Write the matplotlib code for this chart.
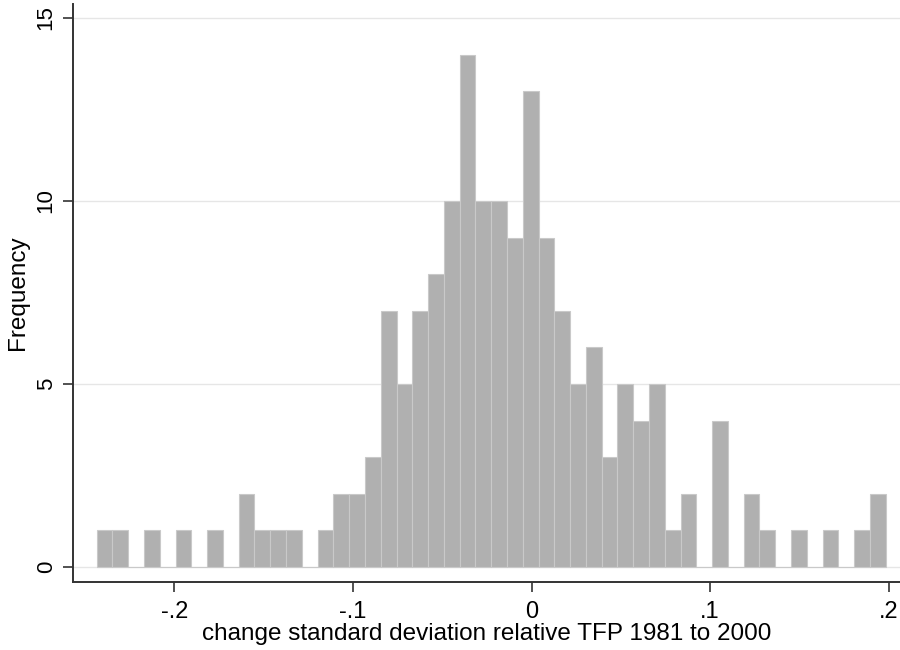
import numpy as np
import matplotlib
matplotlib.use("Agg")
import matplotlib.pyplot as plt

plt.rcParams['font.family'] = ['Liberation Sans', 'DejaVu Sans']

# Histogram data (50 bins)
bin_start = -0.24345
bin_width = 0.008835
counts = [1, 1, 0, 1, 0, 1, 0, 1, 0, 2,
          1, 1, 1, 0, 1, 2, 2, 3, 7, 5,
          7, 8, 10, 14, 10, 10, 9, 13, 9, 7,
          5, 6, 3, 5, 4, 5, 1, 2, 0, 4,
          0, 2, 1, 0, 1, 0, 1, 0, 1, 2]
xticks = [-0.2, -0.1, 0, 0.1, 0.2]
xticklabels = ['-.2', '-.1', '0', '.1', '.2']
yticks = [0, 5, 10, 15]

edges = bin_start + bin_width * np.arange(len(counts) + 1)

fig = plt.figure(figsize=(9, 6.5), dpi=100)
ax = fig.add_axes([73.3 / 900, 1 - 581.7 / 650, 1 - 73.3 / 900, (581.7 - 4) / 650])

ax.bar(edges[:-1], counts, width=bin_width, align='edge',
       color='#b0b0b0', edgecolor='#c9c9c9', linewidth=0.8, zorder=3)

ax.set_xlim((73.3 - 531.5) / 1786, (900 - 531.5) / 1786)
ax.set_ylim((567 - 581.7) / 36.6, (567 - 4) / 36.6)

ax.set_yticks(yticks)
ax.set_yticklabels([str(v) for v in yticks], rotation=90, va='center', fontsize=16)
ax.set_xticks(xticks)
ax.set_xticklabels(xticklabels, fontsize=17)

ax.yaxis.grid(True, color='#e6e6e6', linewidth=1.0, zorder=0)
ax.set_axisbelow(True)

for s in ['top', 'right']:
    ax.spines[s].set_visible(False)
for s in ['left', 'bottom']:
    ax.spines[s].set_color('#333333')
    ax.spines[s].set_linewidth(1.4)

ax.tick_params(axis='both', direction='out', length=7, width=1.2, color='#333333',
               labelcolor='#000000')
ax.tick_params(axis='x', pad=7)
ax.tick_params(axis='y', pad=5)

ax.set_xlabel('change standard deviation relative TFP 1981 to 2000', fontsize=17.5,
              labelpad=0, color='#000000')
ax.set_ylabel('Frequency', fontsize=17.5, labelpad=5, color='#000000')

fig.savefig('out.png', dpi=100)
